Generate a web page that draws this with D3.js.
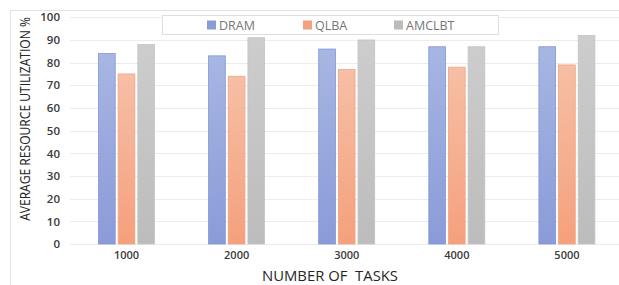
<!DOCTYPE html>
<html>
<head>
<meta charset="utf-8">
<script src="https://cdn.jsdelivr.net/npm/d3@7"></script>
<style>
  body { margin: 0; background: #fff; }
  svg { display: block; font-family: "Open Sans", "Liberation Sans", sans-serif; }
</style>
</head>
<body>
<svg id="chart" width="619" height="285"></svg>
<script>
const categories = ["1000", "2000", "3000", "4000", "5000"];
const seriesNames = ["DRAM", "QLBA", "AMCLBT"];
const dram = [84, 83, 86, 87, 87];
const qlba = [75, 74, 77, 78, 79];
const amclbt = [88, 91, 90, 87, 92];
const yTicks = [0, 10, 20, 30, 40, 50, 60, 70, 80, 90, 100];

const seriesValues = [dram, qlba, amclbt];
const colors = [
  { top: "#a7b6e2", bottom: "#8a9bd8", stroke: "#7f95dc" },
  { top: "#f6bfa6", bottom: "#f5a07c", stroke: "#f5a27f" },
  { top: "#cdcdcd", bottom: "#bcbcbc", stroke: "#c4c4c4" }
];

const svg = d3.select("#chart");
const width = 619, height = 285;

// outer frame
svg.append("rect")
  .attr("x", 10.5).attr("y", 10.5)
  .attr("width", 620).attr("height", 290)
  .attr("fill", "none").attr("stroke", "#e3e3e3");

const defs = svg.append("defs");
colors.forEach((c, i) => {
  const g = defs.append("linearGradient")
    .attr("id", "grad" + i)
    .attr("x1", 0).attr("y1", 0).attr("x2", 0).attr("y2", 1);
  g.append("stop").attr("offset", "0%").attr("stop-color", c.top);
  g.append("stop").attr("offset", "100%").attr("stop-color", c.bottom);
});

const x = d3.scaleBand().domain(categories).range([71.5, 622]);
const xs = d3.scaleBand().domain(seriesNames).range([27, 83]).paddingInner(0.15);
const y = d3.scaleLinear().domain([0, 100]).range([244, 17.3]);

// gridlines
svg.append("g")
  .selectAll("line")
  .data(yTicks)
  .join("line")
  .attr("x1", 70).attr("x2", width)
  .attr("y1", d => Math.round(y(d)) + 0.5)
  .attr("y2", d => Math.round(y(d)) + 0.5)
  .attr("stroke", "#ececec")
  .attr("stroke-width", 1.2);

// y axis labels
const yAxis = svg.append("g")
  .attr("transform", "translate(60,0)")
  .call(d3.axisLeft(y).tickValues(yTicks).tickSize(0).tickPadding(0));
yAxis.select(".domain").remove();
yAxis.selectAll("text")
  .attr("font-size", 11.5)
  .attr("font-weight", 600)
  .attr("fill", "#3a3a3a")
  .attr("font-family", "Open Sans, sans-serif");

// bars
const groups = svg.append("g")
  .selectAll("g")
  .data(categories)
  .join("g")
  .attr("transform", d => `translate(${x(d)},0)`);

groups.selectAll("rect")
  .data((d, i) => seriesNames.map((s, j) => ({ s, j, v: seriesValues[j][i] })))
  .join("rect")
  .attr("x", d => xs(d.s))
  .attr("y", d => y(d.v))
  .attr("width", xs.bandwidth())
  .attr("height", d => y(0) - y(d.v))
  .attr("fill", d => `url(#grad${d.j})`)
  .attr("stroke", d => colors[d.j].stroke)
  .attr("stroke-width", 0.8);

// x axis labels
const xAxis = svg.append("g")
  .attr("transform", "translate(0,251)")
  .call(d3.axisBottom(x).tickSize(0).tickPadding(0));
xAxis.select(".domain").remove();
xAxis.selectAll("text")
  .attr("font-size", 11)
  .attr("font-weight", 600)
  .attr("fill", "#3a3a3a")
  .attr("font-family", "Open Sans, sans-serif");

// axis titles (narrowed with a scale instead of textLength)
const yTitle = svg.append("text")
  .attr("text-anchor", "middle")
  .attr("font-size", 14)
  .attr("fill", "#262626")
  .text("AVERAGE RESOURCE UTILIZATION %");
const natural = yTitle.node().getComputedTextLength();
yTitle.attr("transform", `translate(30,119) rotate(-90) scale(${204 / natural},1)`);

svg.append("text")
  .attr("x", 330).attr("y", 281)
  .attr("text-anchor", "middle")
  .attr("font-size", 14)
  .attr("fill", "#262626")
  .attr("textLength", 136)
  .attr("lengthAdjust", "spacingAndGlyphs")
  .attr("xml:space", "preserve")
  .style("white-space", "pre")
  .text("NUMBER OF  TASKS");

// legend
const legend = svg.append("g");
legend.append("rect")
  .attr("x", 162.5).attr("y", 15.5)
  .attr("width", 336).attr("height", 19)
  .attr("fill", "#fff").attr("stroke", "#dedede");

const legendX = [207, 303, 394];
const items = legend.selectAll("g.item")
  .data(seriesNames)
  .join("g")
  .attr("class", "item")
  .attr("transform", (d, i) => `translate(${legendX[i]},25)`);
items.append("rect")
  .attr("x", 0).attr("y", -4.5)
  .attr("width", 9).attr("height", 9)
  .attr("fill", (d, i) => colors[i].bottom);
items.append("text")
  .attr("x", 12).attr("y", 0)
  .attr("dy", "0.36em")
  .attr("font-size", 12.5)
  .attr("fill", "#767676")
  .text(d => d);
</script>
</body>
</html>
